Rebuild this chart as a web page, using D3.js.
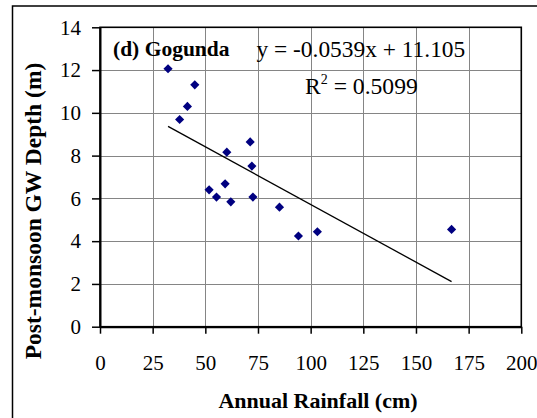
<!DOCTYPE html>
<html>
<head>
<meta charset="utf-8">
<script src="https://cdn.jsdelivr.net/npm/d3@7"></script>
<style>
  html, body { margin: 0; padding: 0; background: #fff; }
  svg { display: block; }
  text { font-family: "Liberation Serif", "Times New Roman", "DejaVu Serif", serif; fill: #000; }
</style>
</head>
<body>
<script>
// Annual rainfall (cm) vs post-monsoon groundwater depth (m), Gogunda
const rainfall = [32.3, 37.8, 41.5, 45.0, 51.8, 55.3, 59.4, 60.2, 62.1, 71.3, 72.1, 72.6, 85.2, 94.2, 103.2, 166.9];
const gwDepth  = [12.06, 9.69, 10.3, 11.31, 6.40, 6.06, 6.68, 8.16, 5.84, 8.64, 7.51, 6.06, 5.59, 4.24, 4.44, 4.55];
const xTicks = [0, 25, 50, 75, 100, 125, 150, 175, 200];
const yTicks = [0, 2, 4, 6, 8, 10, 12, 14];
const slope = -0.0539, intercept = 11.105, rSquared = "0.5099";
const panelLabel = "(d) Gogunda";
const xTitle = "Annual Rainfall (cm)";
const yTitle = "Post-monsoon GW Depth (m)";

const W = 537, H = 418;
const plot = { left: 100, top: 27.3, right: 521.3, bottom: 326.7 };

const svg = d3.select("body").append("svg").attr("width", W).attr("height", H);

// outer chart frame (runs off the right and bottom edges)
svg.append("rect")
  .attr("x", 12.5).attr("y", 6).attr("width", 540).attr("height", 430)
  .attr("fill", "none").attr("stroke", "#000").attr("stroke-width", 1.5);

const x = d3.scaleLinear().domain([0, 200]).range([plot.left, plot.right]);
const y = d3.scaleLinear().domain([0, 14]).range([plot.bottom, plot.top]);

// gridlines
const grid = svg.append("g").attr("stroke", "#858585").attr("stroke-width", 1);
grid.selectAll("line.v").data(xTicks.filter(t => t > 0 && t < 200)).join("line")
  .attr("x1", d => Math.round(x(d)) + 0.5).attr("x2", d => Math.round(x(d)) + 0.5)
  .attr("y1", plot.top).attr("y2", plot.bottom);
grid.selectAll("line.h").data(yTicks.filter(t => t > 0 && t < 14)).join("line")
  .attr("y1", d => Math.round(y(d)) + 0.5).attr("y2", d => Math.round(y(d)) + 0.5)
  .attr("x1", plot.left).attr("x2", plot.right);

// plot frame
svg.append("rect")
  .attr("x", plot.left).attr("y", plot.top)
  .attr("width", plot.right - plot.left).attr("height", plot.bottom - plot.top)
  .attr("fill", "none").attr("stroke", "#000").attr("stroke-width", 1.6);

// axes
const xAxis = svg.append("g").attr("transform", `translate(0,${plot.bottom})`)
  .call(d3.axisBottom(x).tickValues(xTicks).tickSize(7).tickPadding(21.4).tickSizeOuter(0));
const yAxis = svg.append("g").attr("transform", `translate(${plot.left},0)`)
  .call(d3.axisLeft(y).tickValues(yTicks).tickSize(8).tickPadding(11).tickSizeOuter(0));
[xAxis, yAxis].forEach(g => {
  g.attr("font-family", null).attr("font-size", null);
  g.select(".domain").attr("stroke", "#000").attr("stroke-width", 2);
  g.selectAll(".tick line").attr("stroke", "#000").attr("stroke-width", 1.5);
  g.selectAll(".tick text").attr("font-size", 21).attr("fill", "#000");
});

// linear trend line across the data range
const [xMin, xMax] = d3.extent(rainfall);
svg.append("line")
  .attr("x1", x(xMin)).attr("y1", y(slope * xMin + intercept))
  .attr("x2", x(xMax)).attr("y2", y(slope * xMax + intercept))
  .attr("stroke", "#000").attr("stroke-width", 1.3);

// diamond markers
const diamond = d3.symbol().type(d3.symbolSquare).size(42);
svg.append("g").selectAll("path").data(rainfall.map((r, i) => [r, gwDepth[i]])).join("path")
  .attr("d", diamond)
  .attr("transform", d => `translate(${x(d[0])},${y(d[1])}) rotate(45)`)
  .attr("fill", "#000080");

// panel label and regression annotation
svg.append("text").attr("x", 113).attr("y", 55.5)
  .attr("font-size", 21.5).attr("font-weight", "bold").text(panelLabel);
svg.append("text").attr("x", 256.5).attr("y", 56.5)
  .attr("font-size", 23.4).text(`y = ${slope}x + ${intercept}`);
const r2 = svg.append("text").attr("x", 305).attr("y", 94).attr("font-size", 23.6);
r2.append("tspan").text("R");
r2.append("tspan").attr("font-size", 14).attr("dy", -10).text("2");
r2.append("tspan").attr("dy", 10).text(` = ${rSquared}`);

// axis titles
svg.append("text").attr("x", 318).attr("y", 407.5).attr("text-anchor", "middle")
  .attr("font-size", 22).attr("font-weight", "bold").text(xTitle);
svg.append("text").attr("transform", "translate(41,211) rotate(-90)").attr("text-anchor", "middle")
  .attr("font-size", 23.5).attr("font-weight", "bold").text(yTitle);
</script>
</body>
</html>
